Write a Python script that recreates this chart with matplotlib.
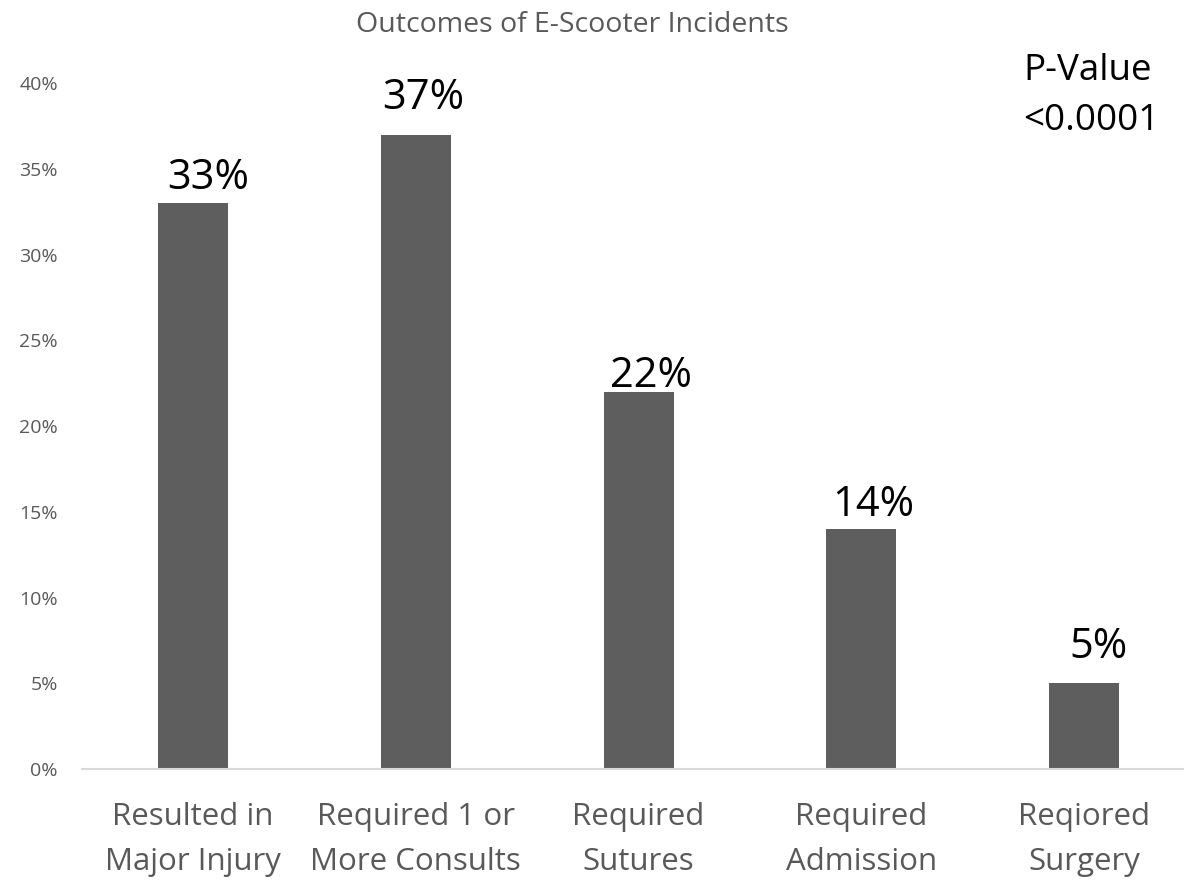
import matplotlib
matplotlib.use("Agg")
import matplotlib.pyplot as plt
from matplotlib.ticker import PercentFormatter

plt.rcParams['font.family'] = ['Open Sans', 'DejaVu Sans']

categories = ["Resulted in\nMajor Injury", "Required 1 or\nMore Consults",
              "Required\nSutures", "Required\nAdmission", "Reqiored\nSurgery"]
values = [33, 37, 22, 14, 5]
value_labels = ["33%", "37%", "22%", "14%", "5%"]
y_ticks = [0, 5, 10, 15, 20, 25, 30, 35, 40]

# hand-placed nudges of the value labels (pixels right, pixels above bar top)
label_dx = [15, 8, 12, 12, 14]
label_dy = [14, 26, 5, 13, 25]

GRAY = "#595959"
DPI = 100

fig = plt.figure(figsize=(11.84, 8.80), dpi=DPI)
ax = fig.add_axes([0.0689, 0.1261, 0.9408, 0.7795])

x = list(range(len(categories)))
bars = ax.bar(x, values, width=0.314, color="#5e5e5e", zorder=2)
for rect, lab, dx, dy in zip(bars, value_labels, label_dx, label_dy):
    ax.annotate(lab, (rect.get_x() + rect.get_width() / 2, rect.get_height()),
                xytext=(dx * 72 / DPI, dy * 72 / DPI), textcoords="offset points",
                ha="center", va="baseline", fontsize=30, color="black")

ax.set_xlim(-0.5, len(categories) - 0.5)
ax.set_ylim(0, 40)
ax.set_yticks(y_ticks)
ax.yaxis.set_major_formatter(PercentFormatter(decimals=0))
ax.set_xticks(x)
ax.set_xticklabels(categories, fontsize=22.5, color=GRAY, linespacing=1.65)

for side in ["top", "right", "left"]:
    ax.spines[side].set_visible(False)
ax.spines["bottom"].set_color("#d9d9d9")
ax.spines["bottom"].set_linewidth(1.5)
ax.tick_params(axis="y", length=0, labelsize=14, labelcolor=GRAY, pad=17)
ax.tick_params(axis="x", length=0, pad=24)

fig.text(0.4835, 0.988, "Outcomes of E-Scooter Incidents", ha="center", va="top",
         fontsize=20.5, color=GRAY)
fig.text(1023 / 1184, 1 - 80 / 880, "P-Value", ha="left", va="baseline",
         fontsize=26.5, color="black")
fig.text(1023 / 1184, 1 - 130 / 880, "<0.0001", ha="left", va="baseline",
         fontsize=26.5, color="black")

fig.savefig("out.png", dpi=DPI)
